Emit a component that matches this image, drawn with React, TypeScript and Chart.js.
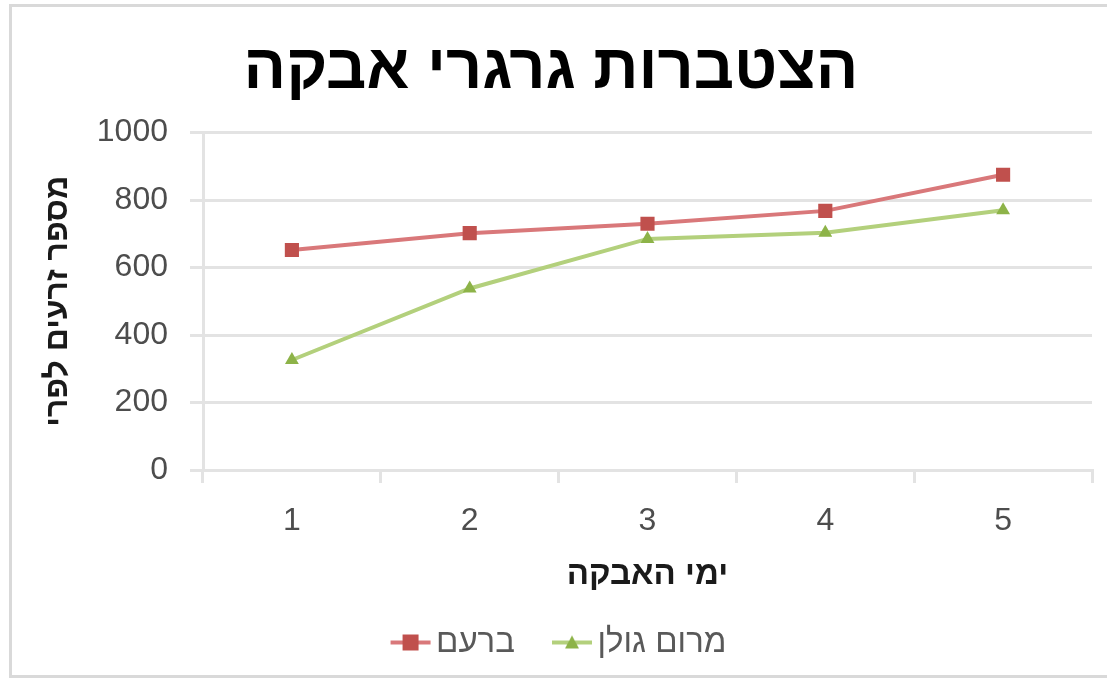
import React, { useEffect, useRef } from "react";
import { Chart, registerables } from "chart.js";

Chart.register(...registerables);

const categories = ["1", "2", "3", "4", "5"];
const seriesNames = ["ברעם", "מרום גולן"];
const biriyaValues = [652, 702, 730, 768, 875];
const meromGolanValues = [326, 538, 685, 703, 770];
const yTicks = [0, 200, 400, 600, 800, 1000];
const chartTitle = "הצטברות גרגרי אבקה";
const xTitle = "ימי האבקה";
const yTitle = "מספר זרעים לפרי";

const RED = "#c0504d";
const RED_LINE = "#d9787a";
const GREEN = "#8db348";
const GREEN_LINE = "#b3d07c";
const FONT = "'Liberation Sans', Arial, sans-serif";

function legendIcon(lineColor: string, markColor: string, shape: "rect" | "tri") {
  const c = document.createElement("canvas");
  c.width = 70;
  c.height = 20;
  const ctx = c.getContext("2d")!;
  const x0 = 28;
  ctx.strokeStyle = lineColor;
  ctx.lineWidth = 4;
  ctx.beginPath();
  ctx.moveTo(x0, 10);
  ctx.lineTo(x0 + 40, 10);
  ctx.stroke();
  ctx.fillStyle = markColor;
  if (shape === "rect") {
    ctx.fillRect(x0 + 12, 2, 16, 16);
  } else {
    ctx.beginPath();
    ctx.moveTo(x0 + 20, 3);
    ctx.lineTo(x0 + 27, 16);
    ctx.lineTo(x0 + 13, 16);
    ctx.closePath();
    ctx.fill();
  }
  return c;
}

export default function App() {
  const ref = useRef<HTMLCanvasElement | null>(null);
  useEffect(() => {
    if (!ref.current) return;
    const icons = [legendIcon(RED_LINE, RED, "rect"), legendIcon(GREEN_LINE, GREEN, "tri")];
    const chart = new Chart(ref.current, {
      type: "line",
      data: {
        labels: categories,
        datasets: [
          {
            label: seriesNames[0],
            data: biriyaValues,
            borderColor: RED_LINE,
            backgroundColor: RED,
            borderWidth: 4,
            pointStyle: "rect",
            pointRadius: 10,
            pointBackgroundColor: RED,
            pointBorderColor: RED,
            pointBorderWidth: 0,
            tension: 0,
          },
          {
            label: seriesNames[1],
            data: meromGolanValues,
            borderColor: GREEN_LINE,
            backgroundColor: GREEN,
            borderWidth: 4,
            pointStyle: "triangle",
            pointRadius: 8,
            pointBackgroundColor: GREEN,
            pointBorderColor: GREEN,
            pointBorderWidth: 0,
            tension: 0,
          },
        ],
      },
      options: {
        animation: false,
        responsive: false,
        layout: { padding: { left: 10, right: 15, top: 0, bottom: 14 } },
        plugins: {
          title: {
            display: true,
            text: chartTitle,
            color: "#000",
            font: { family: FONT, size: 63, weight: "bold" },
            padding: { top: 33, bottom: 24 },
          },
          legend: {
            position: "bottom",
            labels: {
              color: "#595959",
              font: { family: FONT, size: 33 },
              usePointStyle: true,
              pointStyleWidth: 44,
              padding: 22,
              generateLabels: (ch: any) =>
                ch.data.datasets.map((ds: any, i: number) => ({
                  text: ds.label,
                  fillStyle: ds.backgroundColor,
                  strokeStyle: ds.borderColor,
                  lineWidth: 0,
                  pointStyle: icons[i],
                  datasetIndex: i,
                  hidden: false,
                  fontColor: "#595959",
                })),
            },
          },
          tooltip: { enabled: false },
        },
        scales: {
          x: {
            offset: true,
            grid: {
              display: true,
              offset: true,
              drawOnChartArea: false,
              drawTicks: true,
              tickLength: 13,
              color: "#e3e3e3",
              lineWidth: 3,
            },
            border: { color: "#e3e3e3", width: 3 },
            ticks: { color: "#4d4d4d", font: { family: FONT, size: 32 }, padding: 19 },
            title: {
              display: true,
              text: xTitle,
              color: "#1a1a1a",
              font: { family: FONT, size: 33, weight: "bold" },
              padding: { top: 10, bottom: 9 },
            },
            afterFit: (s: any) => {
              s.height = 134;
            },
          },
          y: {
            min: 0,
            max: 1000,
            afterBuildTicks: (s: any) => {
              s.ticks = yTicks.map((v) => ({ value: v }));
            },
            grid: { color: "#e3e3e3", lineWidth: 3, tickLength: 13 },
            border: { color: "#e3e3e3", width: 3 },
            ticks: {
              color: "#4d4d4d",
              font: { family: FONT, size: 32 },
              padding: 22,
              callback: (v: any) => String(v),
            },
            title: {
              display: true,
              text: yTitle,
              color: "#1a1a1a",
              font: { family: FONT, size: 32, weight: "bold" },
              padding: { top: 29, bottom: 10 },
            },
            afterFit: (s: any) => {
              s.width = 193;
            },
          },
        },
      },
    });
    return () => chart.destroy();
  }, []);
  return (
    <div style={{ position: "absolute", left: 0, top: 0, width: 1107, height: 683, background: "#fff", overflow: "hidden" }}>
      <div
        style={{
          position: "absolute",
          left: 9,
          top: 4,
          width: 1120,
          height: 674,
          border: "3px solid #d9d9d9",
          boxSizing: "border-box",
        }}
      />
      <canvas ref={ref} width={1107} height={683} style={{ position: "absolute", left: 0, top: 0 }} />
    </div>
  );
}
